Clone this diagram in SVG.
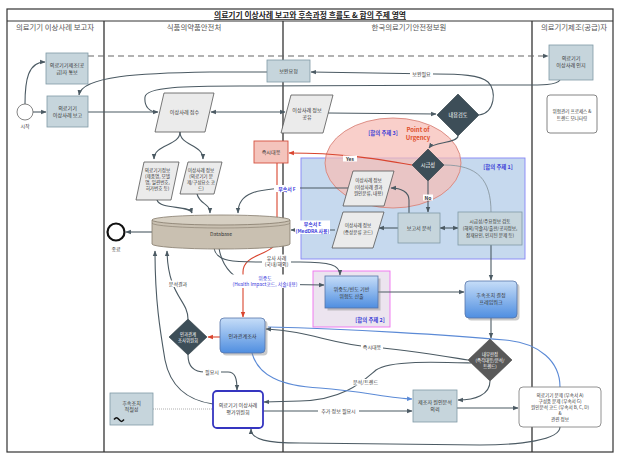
<svg xmlns="http://www.w3.org/2000/svg" width="621" height="459" viewBox="0 0 621 459">
<defs>
<style>
text{font-family:"Noto Sans CJK KR","Noto Sans",sans-serif;text-anchor:middle}
.t{font-size:5.1px;fill:#333}
.ts{font-size:4.6px;fill:#333}
.tw{font-size:5.2px;fill:#fff}
.tws{font-size:4.4px;fill:#fff}
.hd{font-size:7.4px;fill:#555}
.ttl{font-size:7.8px;font-weight:bold;fill:#222}
.lb{font-size:5px;fill:#333}
.bl{font-size:5.4px;fill:#3b3bd6;font-weight:bold}
.blt{font-size:4.9px;fill:#3b3bdb}
.box{fill:#c6d5dc;stroke:#7f9aa6;stroke-width:0.8}
.par{fill:#ebebeb;stroke:#555;stroke-width:0.8}
.dia{fill:#3d4e58;stroke:#2c3a42;stroke-width:0.6}
.grad{fill:url(#bg);stroke:#5574a8;stroke-width:0.8}
.shd{fill:#8a8a8a;opacity:0.45}
.c{fill:none;stroke:#4b5a63;stroke-width:1.1}
.ca{fill:none;stroke:#4b5a63;stroke-width:1.1;marker-end:url(#ah)}
.cd{fill:none;stroke:#4b5a63;stroke-width:1.1;marker-end:url(#ah);marker-start:url(#ah)}
.cr{fill:none;stroke:#d9452f;stroke-width:1.1;marker-end:url(#ahr)}
.cb{fill:none;stroke:#5b8ad6;stroke-width:1.1}
.lane{stroke:#333;stroke-width:1.3}
.wb{fill:#fff}
</style>
<marker id="ah" viewBox="0 0 10 10" refX="9" refY="5" markerWidth="5" markerHeight="5" orient="auto-start-reverse"><path d="M0,1 L10,5 L0,9 z" fill="#4b5a63"/></marker>
<marker id="ahr" viewBox="0 0 10 10" refX="9" refY="5" markerWidth="5" markerHeight="5" orient="auto"><path d="M0,1 L10,5 L0,9 z" fill="#d9452f"/></marker>
<marker id="ahb" viewBox="0 0 10 10" refX="9" refY="5" markerWidth="5" markerHeight="5" orient="auto"><path d="M0,1 L10,5 L0,9 z" fill="#5b8ad6"/></marker>
<linearGradient id="bg" x1="0" y1="0" x2="0" y2="1"><stop offset="0" stop-color="#c6ddf8"/><stop offset="1" stop-color="#4f8ee0"/></linearGradient>
</defs>

<g id="frame">
<rect x="0" y="0" width="621" height="459" fill="#fff"/>
<rect x="7" y="9" width="606" height="443" fill="none" stroke="#333" stroke-width="1.2"/>
<line x1="7" y1="21" x2="613" y2="21" stroke="#333" stroke-width="1"/>
<line class="lane" x1="104" y1="21" x2="104" y2="452"/>
<line class="lane" x1="283" y1="21" x2="283" y2="452"/>
<line class="lane" x1="532" y1="21" x2="532" y2="452"/>
<text class="ttl" x="310" y="18" text-decoration="underline">의료기기 이상사례 보고와 후속과정 흐름도 &amp; 합의 주제 영역</text>
<text class="hd" x="55" y="30">의료기기 이상사례 보고자</text>
<text class="hd" x="194" y="30">식품의약품안전처</text>
<text class="hd" x="409" y="30">한국의료기기안전정보원</text>
<text class="hd" x="574" y="30">의료기기제조(공급)자</text>
</g>

<g id="areas">
<rect x="301" y="158" width="224" height="101" fill="#c6d9ee" stroke="#8585f5" stroke-width="0.9"/>
<ellipse cx="393" cy="163" rx="68" ry="45" fill="#f6bdb6" fill-opacity="0.72" stroke="#d9847a" stroke-width="0.9"/>
<rect x="313" y="271" width="77" height="56" fill="#ece4ef" stroke="#f070f0" stroke-width="0.9"/>
<text class="bl" x="498" y="169">[합의 주제 1]</text>
<text class="bl" x="383" y="135">[합의 주제 3]</text>
<text x="418" y="132" style="font-size:6px;font-weight:bold;fill:#e0502a">Point of</text>
<text x="418" y="139.5" style="font-size:6px;font-weight:bold;fill:#e0502a">Urgency</text>
<text class="bl" x="370" y="322">[합의 주제 2]</text>
</g>

<g id="connectors">
<path class="ca" d="M33,112 L46,112"/>
<path class="ca" d="M25,104 C25,80 28,62 45,62"/>
<path class="ca" d="M88,56 L548,56" stroke-dasharray="6 4" style="stroke:#666"/>
<path class="ca" d="M88,112 L158,112"/>
<path class="c" d="M560,80 C556,86 540,85 500,85 L240,86 C185,86 146,87 145,97 C144,107 150,112 157,112"/>
<path class="ca" d="M267,72 L210,72 C140,73 82,76 79,95"/>
<path class="cd" d="M211,112 L285,112"/>
<path class="ca" d="M328,113 L436,114"/>
<path class="ca" d="M479,115 C495,113 497,90 488,82 C480,75 460,74 435,74 L311,72"/>
<path class="ca" d="M458,136 C458,143 433,142 429,148"/>
<path class="cr" d="M412,165 C372,158 340,153 289,153"/>
<path class="ca" d="M428,181 L428,212"/>
<path d="M444,165 C478,165 491,180 491,212" fill="none" stroke="#8a99a2" stroke-width="0.9"/>
<path class="ca" d="M409,213 L409,200 C409,192 401,188 391,188"/>
<path class="ca" d="M398,228 L379,228"/>
<path class="cd" d="M440,228 L458,228"/>
<path class="ca" d="M491,245 L491,280"/>
<path class="ca" d="M348,188 L300,188 C255,188 238,193 238,213"/>
<path class="ca" d="M335,230 L291,230"/>
<path class="ca" d="M180,132 C180,146 154,144 154,159"/>
<path class="ca" d="M180,132 C180,146 203,144 203,159"/>
<path class="ca" d="M157,200 C160,210 190,205 192,213"/>
<path class="ca" d="M197,194 C200,205 210,203 210,213"/>
<path class="ca" d="M152,232 L126,232"/>
<path class="cr" d="M277,163 L277,238 C277,256 243,252 243,272 L243,317"/>
<path class="ca" d="M214,248 C216,262 235,262 260,262 L300,262 C330,262 340,265 340,275"/>
<path class="ca" d="M219,248 C222,268 236,281 252,284 L324,285"/>
<path class="ca" d="M378,292 L464,292"/>
<path class="ca" d="M491,318 L491,338"/>
<path class="cb" d="M560,387 C560,362 540,343 505,340 C450,335 350,329 268,327"/>
<path class="ca" d="M468,360 C430,354 400,349 372,347 C330,344 310,331 266,329"/>
<path class="ca" d="M471,363 C440,362 390,360 376,370 C364,380 345,400 300,401 L264,402"/>
<path class="ca" d="M490,381 C490,395 475,400 458,400"/>
<path class="cb" d="M252,353 C258,375 280,386 320,388 C360,391 390,398 412,399" marker-end="url(#ahb)"/>
<path class="ca" d="M263,411 L412,411"/>
<path class="ca" d="M457,408 L518,408"/>
<path class="ca" d="M560,427 C560,440 520,445 480,445 L300,443 C268,443 251,440 251,429"/>
<path class="cr" d="M220,337 L208,337"/>
<path class="ca" d="M188,319 C188,300 168,296 167,251"/>
<path class="ca" d="M188,355 C188,368 195,372 205,372 L228,372 C235,372 237,378 237,390"/>
<path class="ca" d="M213,404 C185,400 170,385 165,360 C160,330 155,300 155,251"/>
<path d="M153,409 L213,409" fill="none" stroke="#999" stroke-width="0.8" stroke-dasharray="1 1"/>
<!-- labels -->
<rect class="wb" x="410" y="71" width="23" height="6.5"/><text class="lb" x="421.5" y="76">보완필요</text>
<rect class="wb" x="343" y="155.5" width="14" height="6"/><text class="lb" x="350" y="160.5" style="font-weight:bold">Yes</text>
<rect class="wb" x="423" y="194.5" width="10" height="6"/><text class="lb" x="428" y="199.5" style="font-weight:bold">No</text>
<rect class="wb" x="274" y="185" width="26" height="7"/><text class="blt" x="287" y="190.5" style="font-weight:bold">부속서 F</text>
<rect class="wb" x="295" y="220.5" width="35" height="13.5"/><text class="blt" x="312.5" y="226" style="font-weight:bold">부속서 E</text><text class="blt" x="312.5" y="232.5" style="font-weight:bold">(MedDRA 사용)</text>
<rect class="wb" x="262" y="254.5" width="29" height="12.5"/><text class="lb" x="276.5" y="259.5">유사 사례</text><text class="lb" x="276.5" y="265.5">(국내/해외)</text>
<rect class="wb" x="230" y="274.5" width="70" height="13.5"/><text class="blt" x="265" y="279.5">위중도</text><text class="blt" x="265" y="286">(Health Impact코드, 서술내용)</text>
<rect class="wb" x="361" y="344" width="22" height="6.5"/><text class="lb" x="372" y="349">즉시대응</text>
<rect class="wb" x="352" y="379" width="27" height="6.5"/><text class="lb" x="365.5" y="384">분석/트렌드</text>
<rect class="wb" x="318" y="408" width="41" height="6.5"/><text class="lb" x="338.5" y="413">추가 정보 필요시</text>
<rect class="wb" x="167" y="280.5" width="22" height="6.5"/><text class="lb" x="178" y="285.5">분석결과</text>
<rect class="wb" x="203" y="369" width="18" height="6.5"/><text class="lb" x="212" y="374">필요시</text>
</g>

<g id="start"><circle cx="25" cy="112" r="8" fill="#fff" stroke="#666" stroke-width="0.8"/><text class="lb" x="25" y="128">시작</text></g>
<g id="notify"><rect class="box" x="46" y="53" width="42" height="31"/><text class="t" x="67" y="67">의료기기제조(공</text><text class="t" x="67" y="73.5">급)자 통보</text></g>
<g id="report"><rect class="box" x="47" y="96" width="41" height="31"/><text class="t" x="67.5" y="110">의료기기</text><text class="t" x="67.5" y="116.5">이상사례 보고</text></g>
<g id="receive"><polygon class="par" points="164,93 214,93 205,132 155,132"/><text class="t" x="184.5" y="114">이상사례 접수</text></g>
<g id="device-info"><polygon class="par" points="144,162 179,162 171,200 136,200"/><text class="ts" x="157.5" y="171.5">의료기기정보</text><text class="ts" x="157.5" y="177.5">(제품명, 모델</text><text class="ts" x="157.5" y="183.5">명, 일련번호,</text><text class="ts" x="157.5" y="189.5">허가번호 등)</text></g>
<g id="ae-info"><polygon class="par" points="188,162 222,162 214,194 180,194"/><text class="ts" x="201" y="171.5">이상사례 정보</text><text class="ts" x="201" y="177.5">(의료기기 문</text><text class="ts" x="201" y="183.5">제/구성요소 코</text><text class="ts" x="201" y="189.5">드)</text></g>
<g id="database"><path d="M152,220 L152,244 A69,5 0 0 0 290,244 L290,220 Z" fill="#c9c0b1" stroke="#857b6c" stroke-width="0.8"/><ellipse cx="221" cy="220" rx="69" ry="5" fill="#d6cfc2" stroke="#857b6c" stroke-width="0.8"/><path d="M152,223 A69,5 0 0 0 290,223" fill="none" stroke="#857b6c" stroke-width="0.6"/><text class="t" x="221" y="236">Database</text></g>
<g id="end"><circle cx="116" cy="232" r="8.5" fill="#fff" stroke="#111" stroke-width="2.2"/><text class="lb" x="116" y="251">종료</text></g>
<g id="urgent-action"><rect x="254" y="141" width="34" height="22" fill="#f4c4bc" stroke="#d4513e" stroke-width="0.9"/><text class="t" x="271" y="154">즉시대응</text></g>
<g id="supp-request"><rect class="box" x="267" y="60" width="43" height="22"/><text class="t" x="288.5" y="73">보완요청</text></g>
<g id="share"><polygon class="par" points="291,95 333,95 323,133 281,133"/><text class="t" x="307" y="112">이상사례 정보</text><text class="t" x="307" y="119">공유</text></g>
<g id="review"><polygon class="dia" points="458,94 479,115 458,136 437,115"/><text class="tw" x="458" y="117">내용검토</text></g>
<g id="urgency"><polygon class="dia" points="428,149 444,165 428,181 412,165"/><text class="tw" x="428" y="167">시급성</text></g>
<g id="result-info"><polygon class="par" points="353,171 394,171 384,206 343,206"/><text class="ts" x="368.5" y="182">이상사례 정보</text><text class="ts" x="368.5" y="188.5">(이상사례 결과</text><text class="ts" x="368.5" y="195">원인분류, 내용)</text></g>
<g id="symptom-info"><polygon class="par" points="343,212 384,212 373,248 332,248"/><text class="ts" x="358" y="227">이상사례 정보</text><text class="ts" x="358" y="234">(증상분류 코드)</text></g>
<g id="analysis"><rect class="box" x="398" y="213" width="42" height="30"/><text class="t" x="419" y="230">보고서 분석</text></g>
<g id="key-review"><rect class="box" x="458" y="212" width="64" height="33"/><text class="ts" x="490" y="222.5">시급성/주요정보 검토</text><text class="ts" x="490" y="229.5">(해외/학술지/출판/공지정보,</text><text class="ts" x="490" y="236.5">잠재요인, 인지된 문제 등)</text></g>
<g id="risk-calc"><rect class="shd" x="327.5" y="278.5" width="53" height="32"/><rect class="grad" x="325" y="276" width="53" height="32"/><text class="t" x="351.5" y="290.5">위중도/빈도 기반</text><text class="t" x="351.5" y="297.5">위험도 산출</text></g>
<g id="followup-framework"><rect class="shd" x="467.5" y="283.5" width="52" height="37" rx="4"/><rect class="grad" x="465" y="281" width="52" height="37" rx="4"/><text class="t" x="491" y="297">후속조치 결정</text><text class="t" x="491" y="304">프레임워크</text></g>
<g id="internal-decision"><polygon points="490,339 512,360 490,381 468,360" fill="#595959" stroke="#444" stroke-width="0.6"/><text class="tws" x="490" y="355.5">내부판정</text><text class="tws" x="490" y="361.5">(즉각대응/분석/</text><text class="tws" x="490" y="367.5">트렌드)</text></g>
<g id="aware"><rect class="box" x="549" y="45" width="44" height="35"/><text class="t" x="571" y="60">의료기기</text><text class="t" x="571" y="67">이상사례 인지</text></g>
<g id="risk-mgmt"><rect x="547" y="95" width="50" height="38" rx="3" fill="#fff" stroke="#666" stroke-width="0.8"/><text class="ts" x="572" y="112.5">위험관리 프로세스 &amp;</text><text class="ts" x="572" y="119.5">트렌드 모니터링</text></g>
<g id="annex-info"><rect x="519" y="387" width="82" height="40" rx="4" fill="#fff" stroke="#777" stroke-width="0.8"/><text class="ts" x="560" y="396.6">의료기기 문제 (부속서 A)</text><text class="ts" x="560" y="402.6">구성품 문제 (부속서 G)</text><text class="ts" x="560" y="408.6">원인분석 코드 (부속서 B, C, D)</text><text class="ts" x="560" y="414.6">&amp;</text><text class="ts" x="560" y="420.6">관련 정보</text></g>
<g id="mfr-analysis"><rect class="box" x="413" y="390" width="44" height="32"/><text class="t" x="435" y="404">제조자 원인분석</text><text class="t" x="435" y="411">의뢰</text></g>
<g id="causal"><rect class="shd" x="222.5" y="320.5" width="45" height="35" rx="4"/><rect class="grad" x="220" y="318" width="45" height="35" rx="4"/><text class="t" x="242.5" y="337.5">인과관계조사</text></g>
<g id="causal-committee"><polygon class="dia" points="188,319 207,337 188,355 169,337"/><text class="tws" x="188" y="335.5">인과관계</text><text class="tws" x="188" y="341.5">조사위원회</text></g>
<g id="eval-committee"><rect x="213" y="391" width="50" height="37" rx="4" fill="#fff" stroke="#3535c0" stroke-width="1.8"/><text class="t" x="238" y="407">의료기기 이상사례</text><text class="t" x="238" y="414">평가위원회</text></g>
<g id="adequacy"><rect class="box" x="110" y="393" width="43" height="32"/><text class="t" x="131.5" y="405">후속조치</text><text class="t" x="131.5" y="411">적절성</text><path d="M114,419.5 c2,-2.5 3,-2.5 5,0 s3,2.5 5,0" fill="none" stroke="#111" stroke-width="1.5"/></g>
</svg>
